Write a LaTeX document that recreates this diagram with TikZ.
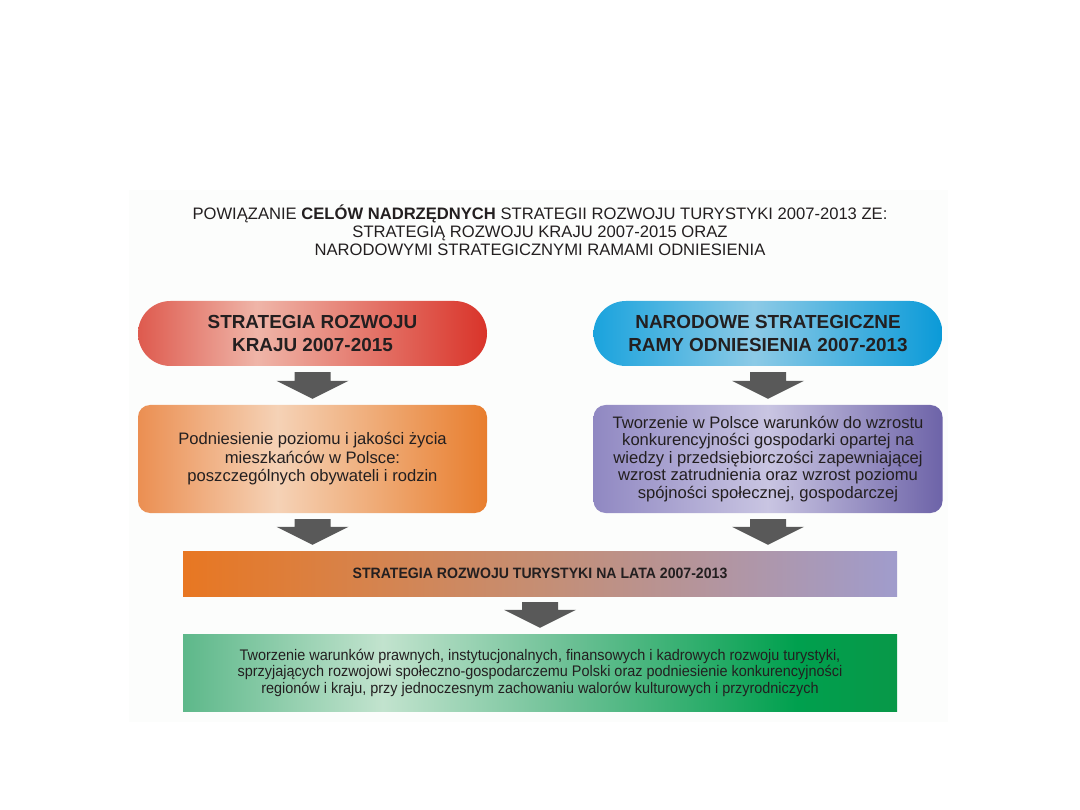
\documentclass[tikz,border=0pt]{standalone}
\usepackage{fontspec}
\setmainfont{Liberation Sans}
\newfontfamily\narrowfont[FakeStretch=0.94]{Liberation Sans}
\usetikzlibrary{calc}
\definecolor{panelcol}{HTML}{FCFDFC}
\definecolor{textcol}{HTML}{231F20}
\definecolor{arrowcol}{HTML}{595959}
\definecolor{redL}{HTML}{DE5A4E}
\definecolor{redM}{HTML}{EFB5A8}
\definecolor{redR}{HTML}{D9342A}
\definecolor{bluL}{HTML}{1AA3DD}
\definecolor{bluM}{HTML}{8CCAE6}
\definecolor{bluR}{HTML}{0A9AD8}
\definecolor{orL}{HTML}{EB8F52}
\definecolor{orM}{HTML}{F5D2B6}
\definecolor{orR}{HTML}{E87E2E}
\definecolor{puL}{HTML}{9088C2}
\definecolor{puM}{HTML}{C9C5E2}
\definecolor{puR}{HTML}{6D63A8}
\definecolor{barL}{HTML}{E87722}
\definecolor{barM}{HTML}{C58E74}
\definecolor{barR}{HTML}{A09CCC}
\definecolor{grA}{HTML}{5DB88A}
\definecolor{grB}{HTML}{C2E3CE}
\definecolor{grC}{HTML}{6CC095}
\definecolor{grD}{HTML}{00A04E}
\definecolor{grE}{HTML}{089848}
\pgfdeclarehorizontalshading{redsh}{100bp}{color(0bp)=(redL); color(25bp)=(redL); color(42bp)=(redM); color(75bp)=(redR); color(100bp)=(redR)}
\pgfdeclarehorizontalshading{blush}{100bp}{color(0bp)=(bluL); color(25bp)=(bluL); color(48bp)=(bluM); color(75bp)=(bluR); color(100bp)=(bluR)}
\pgfdeclarehorizontalshading{orsh}{100bp}{color(0bp)=(orL); color(25bp)=(orL); color(45bp)=(orM); color(75bp)=(orR); color(100bp)=(orR)}
\pgfdeclarehorizontalshading{push}{100bp}{color(0bp)=(puL); color(25bp)=(puL); color(50bp)=(puM); color(75bp)=(puR); color(100bp)=(puR)}
\pgfdeclarehorizontalshading{barsh}{100bp}{color(0bp)=(barL); color(25bp)=(barL); color(50bp)=(barM); color(75bp)=(barR); color(100bp)=(barR)}
\pgfdeclarehorizontalshading{grsh}{100bp}{color(0bp)=(grA); color(25bp)=(grA); color(39bp)=(grB); color(52bp)=(grC); color(68bp)=(grD); color(75bp)=(grE); color(100bp)=(grE)}
\newcommand\blockarrow[2]{%
  \fill[arrowcol] let \p1=(#1.south), \p2=(#2.north) in
   (\x1-18pt,\y1-6pt) -- (\x1+18pt,\y1-6pt) -- (\x1+18pt,\y2+24pt) -- (\x1+36pt,\y2+24pt)
   -- (\x1,\y2+6pt) -- (\x1-36pt,\y2+24pt) -- (\x1-18pt,\y2+24pt) -- cycle;}
\tikzset{
  pill/.style={shade, rounded corners=32.5pt, minimum width=349pt, minimum height=65pt,
    inner sep=0pt, align=center, text=textcol, font=\bfseries\fontsize{18.9}{22.5}\selectfont},
  goalbox/.style={shade, rounded corners=12pt, minimum width=349pt, minimum height=108pt,
    inner sep=0pt, align=center, text=textcol, font=\fontsize{16.6}{18.5}\selectfont},
  widebox/.style={shade, minimum width=714pt, inner sep=0pt, align=center, text=textcol},
  titletext/.style={align=center, inner sep=0pt, text=textcol, font=\fontsize{16.6}{18}\selectfont}
}
\begin{document}
\begin{tikzpicture}[x=1pt,y=-1pt]
\useasboundingbox[fill=white] (0,0) rectangle (1080,810);
\fill[panelcol] (129,190) rectangle (948,722);
\node[titletext] (title) at (540,230) {POWIĄZANIE \textbf{CELÓW NADRZĘDNYCH} STRATEGII ROZWOJU TURYSTYKI 2007-2013 ZE:\\
STRATEGIĄ ROZWOJU KRAJU 2007-2015 ORAZ\\
NARODOWYMI STRATEGICZNYMI RAMAMI ODNIESIENIA};
\node[pill, shading=redsh] (srk) at (312.5,333.5) {STRATEGIA ROZWOJU\\KRAJU 2007-2015};
\node[pill, shading=blush] (nsro) at (768,333.5) {NARODOWE STRATEGICZNE\\RAMY ODNIESIENIA 2007-2013};
\node[goalbox, shading=orsh] (celsrk) at (312.5,459) {Podniesienie poziomu i jakości życia\\mieszkańców w Polsce:\\poszczególnych obywateli i rodzin};
\node[goalbox, shading=push, font=\fontsize{16.6}{17.5}\selectfont] (celnsro) at (768,459) {Tworzenie w Polsce warunków do wzrostu\\konkurencyjności gospodarki opartej na\\wiedzy i przedsiębiorczości zapewniającej\\wzrost zatrudnienia oraz wzrost poziomu\\spójności społecznej, gospodarczej};
\node[widebox, shading=barsh, minimum height=45pt, font=\narrowfont\bfseries\fontsize{15}{17}\selectfont] (srt) at (540,573.5) {STRATEGIA ROZWOJU TURYSTYKI NA LATA 2007-2013};
\node[widebox, shading=grsh, minimum height=77pt, font=\narrowfont\fontsize{15.35}{16.5}\selectfont] (celsrt) at (540,672.5) {Tworzenie warunków prawnych, instytucjonalnych, finansowych i kadrowych rozwoju turystyki,\\sprzyjających rozwojowi społeczno-gospodarczemu Polski oraz podniesienie konkurencyjności\\regionów i kraju, przy jednoczesnym zachowaniu walorów kulturowych i przyrodniczych};
\blockarrow{srk}{celsrk}
\blockarrow{nsro}{celnsro}
\blockarrow{celsrk}{srt}
\blockarrow{celnsro}{srt}
\blockarrow{srt}{celsrt}
\end{tikzpicture}
\end{document}
